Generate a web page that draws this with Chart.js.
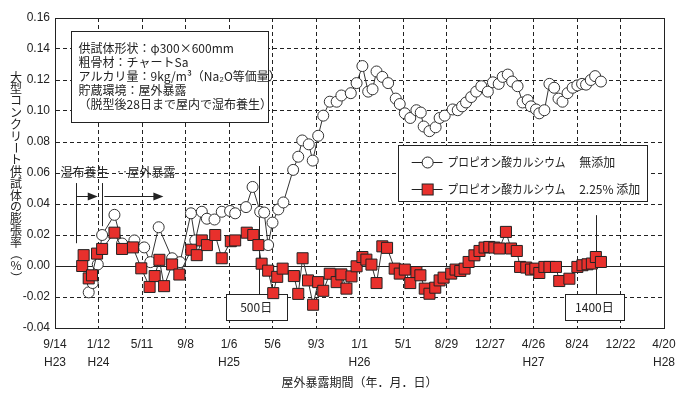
<!DOCTYPE html>
<html><head><meta charset="utf-8">
<script src="https://cdn.jsdelivr.net/npm/chart.js@4.4.1/dist/chart.umd.min.js"></script>
<style>html,body{margin:0;padding:0;background:#fff}</style>
</head><body>
<canvas id="c" width="687" height="394"></canvas>
<script>
// ---- data (x: days since 2011/9/14 exposure start, y: expansion %) ----
const daysA = [93,104,118,130,164,185,219,246,263,286,323,345,375,387,405,419,440,460,483,497,527,545,566,577,588,600,616,630,657,671,682,700,711,726,740,758,777,790,816,832,848,864,876,887,903,919,940,951,965,980,997,1009,1017,1033,1050,1061,1075,1097,1111,1123,1134,1148,1162,1176,1194,1208,1224,1235,1249,1261,1276,1290,1304,1313,1327,1336,1350,1364,1377,1389,1400,1414,1428,1441,1454,1465,1478,1490,1506];
const valuesA = [-0.017,-0.011,0.001,0.020,0.033,0.0145,0.0165,0.012,0.0025,0.025,0.005,0.0025,0.034,0.0165,0.035,0.0305,0.030,0.035,0.0355,0.034,0.038,0.051,0.035,0.0345,0.0135,0.028,0.0365,0.041,0.062,0.0705,0.081,0.0785,0.068,0.084,0.097,0.106,0.106,0.110,0.1115,0.118,0.129,0.1125,0.114,0.1255,0.122,0.118,0.108,0.1045,0.0985,0.0955,0.1005,0.099,0.090,0.087,0.0895,0.0955,0.097,0.101,0.1005,0.103,0.1055,0.109,0.1125,0.116,0.1125,0.1185,0.1175,0.122,0.1235,0.119,0.116,0.1055,0.107,0.103,0.101,0.0985,0.1005,0.1175,0.115,0.108,0.106,0.1115,0.115,0.1165,0.1175,0.117,0.120,0.1225,0.119];
const daysB = [75,79,93,102,116,130,164,185,215,238,261,275,288,301,323,343,376,391,405,419,442,460,485,497,529,547,561,570,588,602,613,628,659,671,683,698,712,726,740,758,777,790,804,818,832,848,859,873,887,903,916,937,951,965,980,997,1008,1020,1033,1049,1061,1072,1093,1105,1118,1130,1141,1157,1171,1185,1198,1212,1226,1244,1258,1274,1283,1300,1313,1325,1336,1350,1364,1382,1391,1419,1441,1455,1469,1481,1492,1506];
const valuesB = [0.000,0.007,-0.008,-0.006,0.008,0.011,0.0215,0.011,0.012,-0.0015,-0.0135,-0.0065,0.004,-0.013,0.001,-0.0055,0.0105,0.007,0.0165,0.0135,0.020,0.005,0.016,0.0165,0.0215,0.020,0.0135,0.0015,-0.003,-0.0175,-0.007,-0.0017,-0.0065,-0.018,0.005,-0.0093,-0.025,-0.0104,-0.016,-0.005,-0.0104,-0.0054,-0.0146,-0.0067,-0.0002,0.0058,0.0041,0.0009,-0.011,0.0127,0.0117,-0.0017,-0.0049,-0.0023,-0.011,-0.0039,-0.006,-0.0146,-0.0179,-0.014,-0.0093,-0.0075,-0.0049,-0.0023,-0.0032,-0.0017,0.0026,0.0069,0.0097,0.0119,0.0123,0.0119,0.0113,0.022,0.0113,0.0097,-0.0006,-0.001,-0.0023,-0.0017,-0.0045,-0.0006,-0.0006,-0.0006,-0.0097,-0.0082,-0.0006,0.0005,0.0011,0.0016,0.0058,0.0026];
const tickTop = ['9/14','1/12','5/11','9/8','1/6','5/6','9/3','1/1','5/1','8/29','12/27','4/26','8/24','12/22','4/20'];
const tickEra = ['H23','H24','','','H25','','','H26','','','','H27','','','H28'];
const yTickLabels = ['-0.04','-0.02','0.00','0.02','0.04','0.06','0.08','0.10','0.12','0.14','0.16'];
const legendMain = ['プロピオン酸カルシウム','プロピオン酸カルシウム'];
const legendSub = ['無添加','2.25% 添加'];
const infoLines = ['供試体形状：φ300×600mm','粗骨材：チャートSa','アルカリ量：9kg/m³（Na₂O等価量）','貯蔵環境：屋外暴露','（脱型後28日まで屋内で湿布養生）'];
const yTitle = '大型コンクリート供試体の膨張率（%）';
const xTitle = '屋外暴露期間（年．月．日）';

const JP = '"Noto Sans CJK JP", sans-serif';
const NUM = '"Liberation Sans", Arial, sans-serif';
const INK = '#222';
const RED = '#e8302c';

const annot = {
  id: 'annot',
  beforeDatasetsDraw(chart) {
    const {ctx, chartArea: a, scales: {x, y}} = chart;
    const X = v => x.getPixelForValue(v), Y = v => y.getPixelForValue(v);
    const r = v => Math.round(v) + 0.5;
    ctx.save();
    ctx.strokeStyle = INK; ctx.lineWidth = 1; ctx.setLineDash([]);
    const seg = (x1, y1, x2, y2) => { ctx.beginPath(); ctx.moveTo(x1, y1); ctx.lineTo(x2, y2); ctx.stroke(); };
    const box = (d1, v1, d2, v2) => {
      const x1 = r(X(d1)), y1 = r(Y(v1)), x2 = r(X(d2)), y2 = r(Y(v2));
      ctx.fillStyle = '#fff'; ctx.fillRect(x1, y1, x2 - x1, y2 - y1);
      ctx.strokeRect(x1, y1, x2 - x1, y2 - y1);
    };
    // zero line + frame
    seg(a.left, r(Y(0)), a.right, r(Y(0)));
    ctx.strokeRect(r(a.left), r(a.top), Math.round(a.right - a.left), Math.round(a.bottom - a.top));

    ctx.fillStyle = INK;
    ctx.textBaseline = 'middle';
    // info box
    box(45, 0.1514, 588, 0.0930);
    ctx.fillStyle = INK; ctx.font = '12px ' + JP; ctx.textAlign = 'left';
    const infoY = [0.1404, 0.1316, 0.1221, 0.1132, 0.1043];
    infoLines.forEach((t, i) => ctx.fillText(t, X(65), Y(infoY[i])));

    // legend box
    box(945, 0.0781, 1633, 0.0419);
    const legY = [0.0673, 0.0496];
    [0, 1].forEach(i => {
      const yy = r(Y(legY[i]));
      ctx.strokeStyle = INK;
      seg(X(984), yy, X(1069), yy);
      const cx = X(1028);
      if (i === 0) {
        ctx.beginPath(); ctx.arc(cx, yy, 5.5, 0, Math.PI * 2);
        ctx.fillStyle = '#fff'; ctx.fill(); ctx.stroke();
      } else {
        ctx.fillStyle = RED; ctx.fillRect(cx - 5.5, yy - 5.5, 11, 11);
        ctx.strokeRect(cx - 5.5, yy - 5.5, 11, 11);
      }
      ctx.fillStyle = INK; ctx.font = '12px ' + JP; ctx.textAlign = 'left';
      ctx.fillText(legendMain[i], X(1083), yy, 118);
      ctx.fillText(legendSub[i], X(1446), yy);
    });

    // 500 day / 1400 day markers
    seg(r(X(564)), Y(0.0645), r(X(564)), Y(-0.0183));
    box(472, -0.0183, 639, -0.0351);
    seg(r(X(1492)), Y(0.0328), r(X(1492)), Y(-0.0183));
    box(1406, -0.0183, 1571, -0.0351);
    ctx.fillStyle = INK; ctx.font = '12px ' + JP; ctx.textAlign = 'center';
    ctx.fillText('500日', X(555), Y(-0.0267));
    ctx.fillText('1400日', X(1488), Y(-0.0267));

    // curing / exposure arrows
    ctx.textAlign = 'left';
    ctx.fillText('湿布養生', X(15), Y(0.0606));
    ctx.fillText('‥', X(168), Y(0.0606));
    ctx.fillText('屋外暴露', X(200), Y(0.0606));
    seg(r(X(59)), Y(0.0535), r(X(59)), Y(0.0147));
    seg(r(X(131)), Y(0.0535), r(X(131)), Y(0.0257));
    const arrow = (d1, d2, v) => {
      const x1 = X(d1), x2 = X(d2), yy = r(Y(v));
      seg(x1, yy, x2 - 8, yy);
      ctx.beginPath(); ctx.moveTo(x2, yy); ctx.lineTo(x2 - 10, yy - 4); ctx.lineTo(x2 - 10, yy + 4); ctx.closePath();
      ctx.fillStyle = INK; ctx.fill();
    };
    arrow(59, 118, 0.0451);
    arrow(136, 299, 0.0451);
    ctx.restore();
  },
  afterDraw(chart) {
    const {ctx, chartArea: a} = chart;
    ctx.save();
    ctx.fillStyle = INK; ctx.font = '12px ' + JP;
    ctx.textAlign = 'center'; ctx.textBaseline = 'middle';
    const rot = new Set(['ー', '（', '）']);
    const chars = Array.from(yTitle);
    const x0 = 16, y0 = 77, step = 11.8;
    chars.forEach((ch, i) => {
      const yy = y0 + i * step;
      if (rot.has(ch)) {
        ctx.save(); ctx.translate(x0, yy); ctx.rotate(Math.PI / 2); ctx.fillText(ch, 0, 0); ctx.restore();
      } else ctx.fillText(ch, x0, yy);
    });
    ctx.restore();
  }
};

new Chart(document.getElementById('c'), {
  type: 'scatter',
  data: {
    datasets: [
      { label: legendMain[1] + '　' + legendSub[1], data: daysB.map((d, i) => ({x: d, y: valuesB[i]})),
        showLine: true, borderColor: '#333', borderWidth: 1, pointStyle: 'rect', pointRadius: 7.8,
        pointBackgroundColor: RED, pointBorderColor: '#222', pointBorderWidth: 1, order: 0 },
      { label: legendMain[0] + '　' + legendSub[0], data: daysA.map((d, i) => ({x: d, y: valuesA[i]})),
        showLine: true, borderColor: '#333', borderWidth: 1, pointStyle: 'circle', pointRadius: 5.5,
        pointBackgroundColor: '#fff', pointBorderColor: '#333', pointBorderWidth: 1, order: 1 }
    ]
  },
  options: {
    responsive: false, animation: false, devicePixelRatio: 1,
    layout: { padding: { left: 0, right: 23, top: 18, bottom: 0 } },
    plugins: { legend: { display: false }, tooltip: { enabled: false } },
    scales: {
      x: {
        type: 'linear', min: 0, max: 1680,
        afterFit: s => { s.height = 66; },
        border: { display: true, color: INK, width: 1, dash: [4, 3] },
        grid: { color: INK, lineWidth: 1, drawTicks: false },
        ticks: { stepSize: 120, autoSkip: false, maxRotation: 0, minRotation: 0, padding: 8, color: INK,
          font: { family: NUM, size: 12, lineHeight: 1.5 },
          callback: (v) => { const i = Math.round(v / 120); return [tickTop[i], tickEra[i]]; } },
        title: { display: true, text: xTitle, color: INK, font: { family: JP, size: 12 }, padding: { top: 2, bottom: 4 } }
      },
      y: {
        min: -0.04, max: 0.16,
        afterFit: s => { s.width = 55; },
        border: { display: true, color: INK, width: 1, dash: [4, 3] },
        grid: { color: INK, lineWidth: 1, drawTicks: false },
        ticks: { stepSize: 0.02, padding: 5, color: INK, font: { family: NUM, size: 12 },
          callback: (v) => yTickLabels[Math.round((v + 0.04) / 0.02)] }
      }
    }
  },
  plugins: [annot]
});
</script>
</body></html>
